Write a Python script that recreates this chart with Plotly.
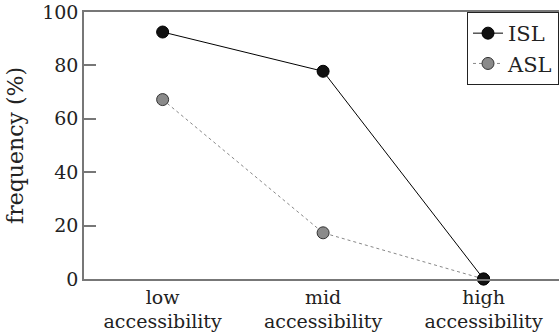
import plotly.graph_objects as go

categories = ["low<br>accessibility", "mid<br>accessibility", "high<br>accessibility"]
isl = [92.5, 77.8, 0]
asl = [67.2, 17.3, 0]
y_ticks = [0, 20, 40, 60, 80, 100]

FONT = "DejaVu Serif"
xs = list(range(len(categories)))

fig = go.Figure()
fig.add_trace(go.Scatter(
    x=xs, y=asl, name="ASL", mode="lines+markers",
    line=dict(color="#888888", width=1, dash="dot"),
    marker=dict(size=12, color="#8a8a8a", line=dict(color="#333333", width=1)),
    cliponaxis=False,
))
fig.add_trace(go.Scatter(
    x=xs, y=isl, name="ISL", mode="lines+markers",
    line=dict(color="black", width=1),
    marker=dict(size=12, color="#111111", line=dict(color="black", width=1)),
    cliponaxis=False,
))

fig.update_layout(
    width=559, height=332,
    margin=dict(l=84, r=0, t=12, b=53),
    paper_bgcolor="white", plot_bgcolor="white",
    font=dict(family=FONT, size=19, color="#222222"),
    showlegend=True,
    legend=dict(
        x=1, xanchor="right", y=1.0, yanchor="top",
        bordercolor="#222222", borderwidth=1, bgcolor="white",
        font=dict(family=FONT, size=21), traceorder="reversed",
        tracegroupgap=0, entrywidth=75,
    ),
    xaxis=dict(
        range=[-0.49, 2.47], tickvals=xs, ticktext=categories,
        showgrid=False, zeroline=False, showline=True, mirror=True,
        linecolor="#777777", linewidth=1.5, ticks="", automargin=False,
        tickfont=dict(family=FONT, size=19),
    ),
    yaxis=dict(
        range=[0, 100], tickvals=y_ticks, showgrid=False, zeroline=False,
        showline=True, linecolor="#777777", linewidth=1.5, automargin=False,
        ticks="inside", ticklen=12, tickcolor="#777777", tickwidth=1.5,
        tickfont=dict(family=FONT, size=19),
        title=dict(text="frequency (%)", font=dict(family=FONT, size=22), standoff=12),
    ),
)

fig.write_html("out.html", config={"displayModeBar": False},
               post_script="document.body.style.margin='0';")
